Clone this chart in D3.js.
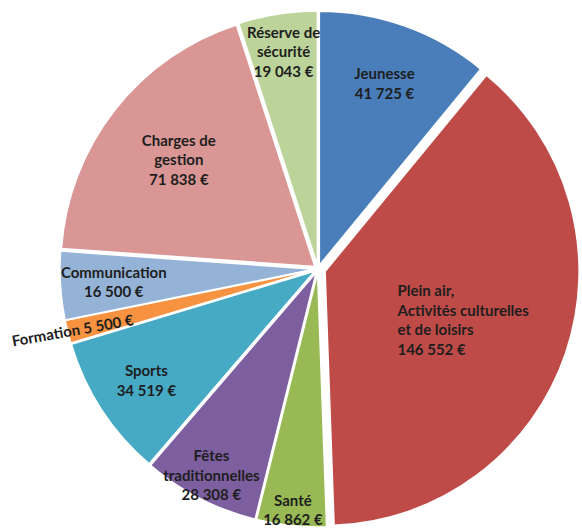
<!DOCTYPE html>
<html>
<head>
<meta charset="utf-8">
<script src="https://cdn.jsdelivr.net/npm/d3@7"></script>
<style>
  html, body { margin: 0; padding: 0; background: #fff; }
  svg { display: block; }
  text { font-family: "Lato", "Open Sans", sans-serif; font-weight: bold; fill: #1e1e1e; }
</style>
</head>
<body>
<svg id="chart" width="582" height="531"></svg>
<script>
// ---- data ----
const categories = ["Jeunesse", "Plein air, Activités culturelles et de loisirs", "Santé",
  "Fêtes traditionnelles", "Sports", "Formation", "Communication", "Charges de gestion", "Réserve de sécurité"];
const values = [41725, 146552, 16862, 28308, 34519, 5500, 16500, 71838, 19043];
const labelLines = [
  ["Jeunesse"],
  ["Plein air,", "Activités culturelles", "et de loisirs"],
  ["Santé"],
  ["Fêtes", "traditionnelles"],
  ["Sports"],
  ["Formation"],
  ["Communication"],
  ["Charges de", "gestion"],
  ["Réserve de", "sécurité"]
];
const colors = ["#4a7ebb", "#be4b48", "#98b954", "#7d5fa0", "#46aac5", "#f69240", "#95b3d7", "#d99694", "#bcd39a"];

// ---- layout ----
const W = 582, H = 531;
const cx = 318, cy = 269, R = 254;
const explode = [4, 7.5, 4, 4, 4, 4, 4, 4, 4];
const labelRadius = [0.76, 0.6, 0.94, 0.9, 0.79, 0.98, 0.79, 0.68, 0.85];

const fmt = v => d3.format(",")(v).replace(/,/g, " ") + " €";

const svg = d3.select("#chart");
const g = svg.append("g").attr("transform", `translate(${cx},${cy})`);

const pie = d3.pie().sort(null).value(d => d.v).startAngle(0).endAngle(2 * Math.PI);
const data = values.map((v, i) => ({ v, i }));
const arcs = pie(data);
const arc = d3.arc().innerRadius(0).outerRadius(R);

const slices = g.selectAll("g.slice").data(arcs).join("g")
  .attr("class", "slice")
  .attr("transform", d => {
    const a = (d.startAngle + d.endAngle) / 2;
    const e = explode[d.data.i];
    return `translate(${Math.sin(a) * e},${-Math.cos(a) * e})`;
  });

slices.append("path")
  .attr("d", arc)
  .attr("fill", d => colors[d.data.i])
  .attr("stroke", "#fff")
  .attr("stroke-width", 1.5)
  .attr("stroke-linejoin", "round");

const fs = 15, lh = 19.5;
arcs.forEach(d => {
  const i = d.data.i;
  const a = (d.startAngle + d.endAngle) / 2;
  const e = explode[i];
  const rr = R * labelRadius[i] + e;
  const x = Math.sin(a) * rr, y = -Math.cos(a) * rr;
  if (i === 5) {
    g.append("text")
      .attr("transform", `translate(${x},${y}) rotate(-10)`)
      .attr("text-anchor", "middle")
      .attr("dy", "0.35em")
      .attr("font-size", fs)
      .text(labelLines[i][0] + " " + fmt(values[i]));
    return;
  }
  const lines = labelLines[i].concat([fmt(values[i])]);
  const left = i === 1;
  const t = g.append("text")
    .attr("font-size", fs)
    .attr("text-anchor", left ? "start" : "middle");
  const x0 = left ? x - 72 : x;
  const y0 = y - (lines.length - 1) * lh / 2;
  lines.forEach((ln, k) => {
    t.append("tspan").attr("x", x0).attr("y", y0 + k * lh).attr("dy", "0.35em").text(ln);
  });
});
</script>
</body>
</html>
